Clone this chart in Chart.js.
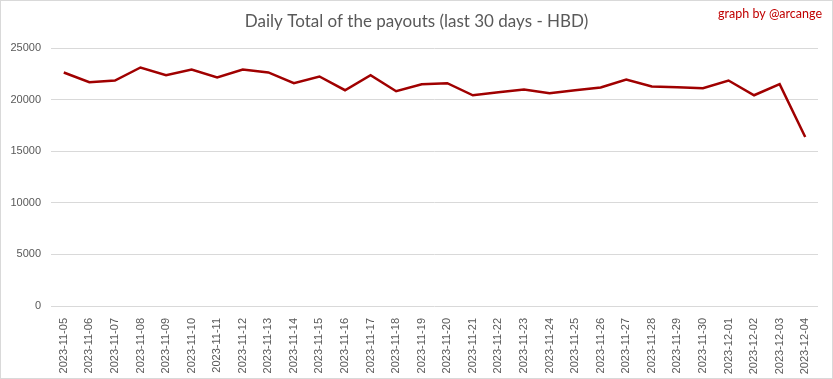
<!DOCTYPE html>
<html>
<head>
<meta charset="utf-8">
<script src="https://cdn.jsdelivr.net/npm/chart.js@4"></script>
<style>
  html, body { margin: 0; padding: 0; background: #fff; }
  #wrap { width: 833px; height: 379px; }
</style>
</head>
<body>
<div id="wrap"><canvas id="payoutchart" width="833" height="379"></canvas></div>
<script>
const days = [
  '2023-11-05','2023-11-06','2023-11-07','2023-11-08','2023-11-09','2023-11-10',
  '2023-11-11','2023-11-12','2023-11-13','2023-11-14','2023-11-15','2023-11-16',
  '2023-11-17','2023-11-18','2023-11-19','2023-11-20','2023-11-21','2023-11-22',
  '2023-11-23','2023-11-24','2023-11-25','2023-11-26','2023-11-27','2023-11-28',
  '2023-11-29','2023-11-30','2023-12-01','2023-12-02','2023-12-03','2023-12-04'
];
const payouts = [
  22630, 21690, 21850, 23110, 22370, 22920,
  22140, 22920, 22630, 21590, 22240, 20910,
  22370, 20810, 21490, 21590, 20420, 20710,
  20970, 20620, 20910, 21170, 21950, 21270,
  21200, 21100, 21850, 20420, 21490, 16370
];
const yTicks = [0, 5000, 10000, 15000, 20000, 25000];

const titleText = 'Daily Total of the payouts (last 30 days - HBD)';
const creditText = 'graph by @arcange';

// frame, title centred on the whole picture, credit line top right
const decorations = {
  id: 'decorations',
  afterDraw(chart) {
    const ctx = chart.ctx;
    ctx.save();
    ctx.strokeStyle = '#d9d9d9';
    ctx.lineWidth = 1;
    ctx.strokeRect(0.5, 0.5, chart.width - 1, chart.height - 1);

    ctx.fillStyle = '#595959';
    ctx.font = '17px Lato';
    ctx.textAlign = 'center';
    ctx.textBaseline = 'middle';
    ctx.fillText(titleText, chart.width / 2, 22);

    ctx.fillStyle = '#c00000';
    ctx.font = '12.5px Lato';
    ctx.textAlign = 'right';
    ctx.fillText(creditText, 822, 14);
    ctx.restore();
  }
};

new Chart(document.getElementById('payoutchart'), {
  type: 'line',
  data: {
    labels: days,
    datasets: [{
      label: 'HBD',
      data: payouts,
      borderColor: '#a00000',
      backgroundColor: '#a00000',
      borderWidth: 2.5,
      pointRadius: 0,
      tension: 0
    }]
  },
  options: {
    responsive: false,
    animation: false,
    layout: { padding: { left: 0, right: 15, top: 48, bottom: 0 } },
    scales: {
      x: {
        offset: true,
        grid: { display: false },
        border: { display: false },
        ticks: {
          autoSkip: false,
          minRotation: 90,
          maxRotation: 90,
          padding: 4,
          color: '#595959',
          font: { family: 'Liberation Sans', size: 11 }
        },
        afterFit: axis => { axis.height = 73; }
      },
      y: {
        min: 0,
        max: 25000,
        afterBuildTicks: axis => { axis.ticks = yTicks.map(v => ({ value: v })); },
        grid: { color: '#d9d9d9', drawTicks: false, lineWidth: 1 },
        border: { display: false },
        ticks: {
          padding: 10,
          color: '#595959',
          font: { family: 'Liberation Sans', size: 11 },
          callback: v => String(v)
        },
        afterFit: axis => { axis.width = 51; }
      }
    },
    plugins: {
      legend: { display: false },
      tooltip: { enabled: false },
      title: { display: false }
    }
  },
  plugins: [decorations]
});
</script>
</body>
</html>
